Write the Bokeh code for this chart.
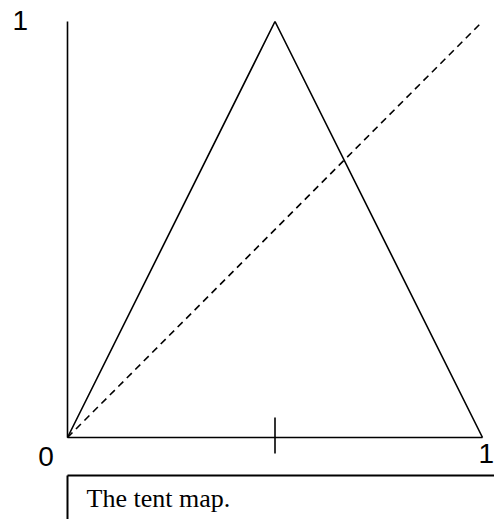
from bokeh.plotting import figure
from bokeh.models import Range1d
from bokeh.core.properties import value
from bokeh.embed import file_html
from bokeh.resources import INLINE

# Tent map T(x) = 1 - |2x - 1| sampled at its corners, plus the identity line
tent_x = [0.0, 0.5, 1.0]
tent_y = [0.0, 1.0, 0.0]
diag_x = [0.0, 1.0]
diag_y = [0.0, 1.0]

# Axis ticks and labels
tick_x = [0.5]
caption = "The tent map."

W, H = 494, 519
p = figure(width=W, height=H, output_backend="svg", toolbar_location=None,
           x_range=Range1d(-0.16145, 1.02892), y_range=Range1d(-0.19712, 1.05048),
           min_border=0, min_border_left=0, min_border_right=0,
           min_border_top=0, min_border_bottom=0)
p.axis.visible = False
p.grid.visible = False
p.outline_line_color = None
p.background_fill_color = "white"
p.border_fill_color = "white"

ink = "black"

# axes drawn as plain strokes: vertical from 0 to 1, horizontal from 0 to 1
p.line([0, 0], [0, 1], line_color=ink, line_width=1.6)
p.line([0, 1], [0, 0], line_color=ink, line_width=1.6)

# single tick at the midpoint
for tx in tick_x:
    p.line([tx, tx], [-0.0385, 0.048], line_color=ink, line_width=1.6)

# the map and the diagonal
p.line(tent_x, tent_y, line_color=ink, line_width=1.6)
p.line(diag_x, diag_y, line_color=ink, line_width=1.6, line_dash="7 5")

# axis labels
label_font = dict(text_font=value("Liberation Sans"), text_font_size="28px",
                  text_baseline="alphabetic", text_color=ink)
p.text(x=[-0.0518, -0.114], y=[-0.0457, 1.0024], text=["0", "1"],
       text_align="center", **label_font)
p.text(x=[1.0277], y=[-0.0385], text=["1"], text_align="right", **label_font)

# caption frame and caption
p.line([0, 1.0289], [-0.0913, -0.0913], line_color=ink, line_width=2)
p.line([0, 0], [-0.0913, -0.1971], line_color=ink, line_width=2)
p.text(x=[0.0458], y=[-0.1466], text=[caption],
       text_font=value("Liberation Serif"), text_font_size="26px",
       text_align="left", text_baseline="alphabetic", text_color=ink)

open("out.html", "w").write(file_html(p, INLINE))
